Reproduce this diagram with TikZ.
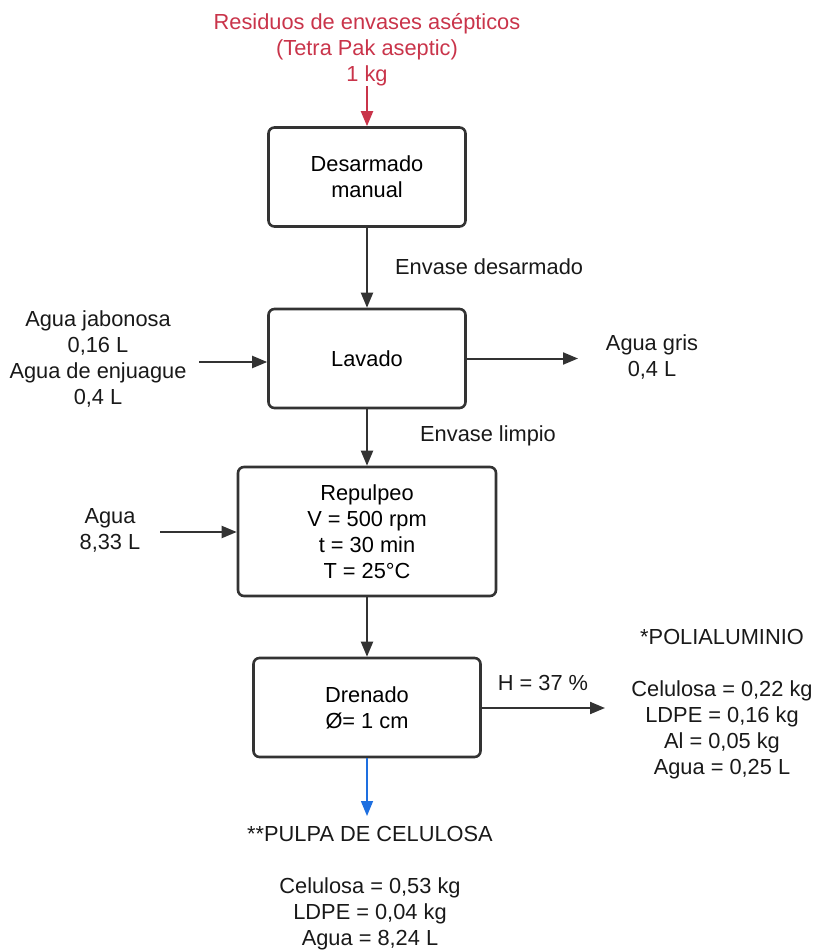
\documentclass[tikz,border=0pt]{standalone}
\usepackage{fontspec}
\setmainfont{Liberation Sans}
\usepackage{tikz}
\usetikzlibrary{arrows.meta}
\usetikzlibrary{positioning}

\definecolor{linegray}{HTML}{333333}
\definecolor{inred}{HTML}{C9344A}
\definecolor{outblue}{HTML}{1E6FE0}

\tikzset{
  proc/.style={draw=linegray, line width=2.6pt, rounded corners=6pt, fill=white,
    align=center, inner sep=0pt},
  flow/.style={draw=linegray, line width=2pt, -{Triangle[length=15pt,width=12pt]}},
  lbl/.style={align=center, inner sep=0pt, text=black!90}
}

\begin{document}
\begin{tikzpicture}[x=1pt,y=-1pt,font=\fontsize{21.8}{26}\selectfont]
	\useasboundingbox (0,0) rectangle (813,952);
	% entrada
	\node[lbl,text=inred] (residuos) at (367,50) {Residuos de envases asépticos\\(Tetra Pak aseptic)\\1 kg};
	% etapas
	\node[proc,minimum width=197pt,minimum height=99pt] (desarmado) at (367,177) {Desarmado\\manual};
	\node[proc,minimum width=197pt,minimum height=99pt] (lavado) at (367,358.5) {Lavado};
	\node[proc,minimum width=258pt,minimum height=129pt] (repulpeo) at (367,531.5) {Repulpeo\\V = 500 rpm\\t = 30 min\\T = 25°C};
	\node[proc,minimum width=227pt,minimum height=99pt] (drenado) at (367,707.5) {Drenado\\Ø= 1 cm};
	% corrientes laterales
	\node[lbl] (jabonosa) at (98,359) {Agua jabonosa\\0,16 L\\Agua de enjuague\\0,4 L};
	\node[lbl] (gris) at (652,356.5) {Agua gris\\0,4 L};
	\node[lbl] (agua) at (110,530) {Agua\\8,33 L};
	\node[lbl] (polial) at (722,704) {*POLIALUMINIO\\[26pt]Celulosa = 0,22 kg\\LDPE = 0,16 kg\\Al = 0,05 kg\\Agua = 0,25 L};
	\node[lbl] (pulpa) at (370,888) {**PULPA DE CELULOSA\\[26pt]Celulosa = 0,53 kg\\LDPE = 0,04 kg\\Agua = 8,24 L};
	% etiquetas
	\node[lbl,anchor=west] (desarmlbl) at (395,267) {Envase desarmado};
	\node[lbl,anchor=west] (limpiolbl) at (420,436) {Envase limpio};
	\node[lbl] (humedad) at (543,683) {H = 37 \%};
	\coordinate (jabin) at (199,362);
	\coordinate (grisout) at (578,358.5);
	\coordinate (aguain) at (160,532);
	\coordinate (polout) at (605,708);
	\coordinate (pulpout) at (367,816);
	% flechas
	\draw[flow,draw=inred] (residuos.south) -- (desarmado.north);
	\draw[flow] (desarmado) -- (lavado);
	\draw[flow] (lavado) -- (repulpeo);
	\draw[flow] (repulpeo) -- (drenado);
	\draw[flow] (jabin) -- (jabin -| lavado.west);
	\draw[flow] (lavado.east) -- (grisout);
	\draw[flow] (aguain) -- (aguain -| repulpeo.west);
	\draw[flow] (polout -| drenado.east) -- (polout);
	\draw[flow,draw=outblue,line width=1.5pt] (drenado.south) -- (pulpout);
\end{tikzpicture}
\end{document}
